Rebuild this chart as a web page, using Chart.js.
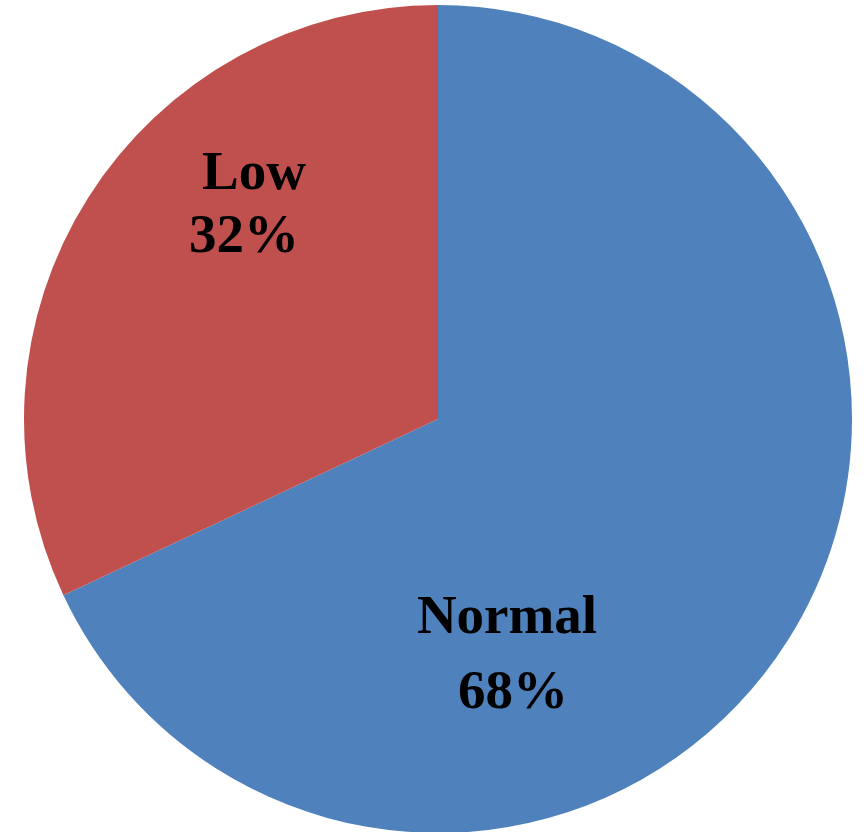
<!DOCTYPE html>
<html>
<head>
<meta charset="utf-8">
<script src="https://cdn.jsdelivr.net/npm/chart.js@4/dist/chart.umd.min.js"></script>
<style>
  html, body { margin: 0; padding: 0; background: #ffffff; overflow: hidden; }
  #wrap { position: absolute; left: 0; top: 0; width: 868px; height: 840px; }
</style>
</head>
<body>
<div id="wrap"><canvas id="pie"></canvas></div>
<script>
// Share of readings by level
const categories = ['Normal', 'Low'];
const shares = [68, 32];
const sliceColors = ['#4F81BD', '#C0504D'];

// Baseline anchors of the name line and the percentage line, measured from the pie centre
const labelAnchors = [
  { name: [69, 214], pct: [75, 289] },
  { name: [-184, -230], pct: [-194, -167] }
];

const sliceLabels = {
  id: 'sliceLabels',
  afterDatasetsDraw(chart) {
    const ctx = chart.ctx;
    const meta = chart.getDatasetMeta(0);
    const total = shares.reduce((a, b) => a + b, 0);
    ctx.save();
    ctx.fillStyle = '#000000';
    ctx.font = 'bold 55px "Liberation Serif", "Times New Roman", serif';
    ctx.textAlign = 'center';
    ctx.textBaseline = 'alphabetic';
    meta.data.forEach((arc, i) => {
      const a = labelAnchors[i];
      const pct = Math.round(shares[i] / total * 100) + '%';
      ctx.fillText(categories[i], arc.x + a.name[0], arc.y + a.name[1]);
      ctx.fillText(pct, arc.x + a.pct[0], arc.y + a.pct[1]);
    });
    ctx.restore();
  }
};

new Chart(document.getElementById('pie'), {
  type: 'pie',
  data: {
    labels: categories,
    datasets: [{
      data: shares,
      backgroundColor: sliceColors,
      borderWidth: 0
    }]
  },
  options: {
    responsive: true,
    maintainAspectRatio: false,
    animation: false,
    layout: { padding: { left: 24, right: 16, top: 5, bottom: 7 } },
    plugins: {
      legend: { display: false },
      tooltip: { enabled: false }
    }
  },
  plugins: [sliceLabels]
});
</script>
</body>
</html>
